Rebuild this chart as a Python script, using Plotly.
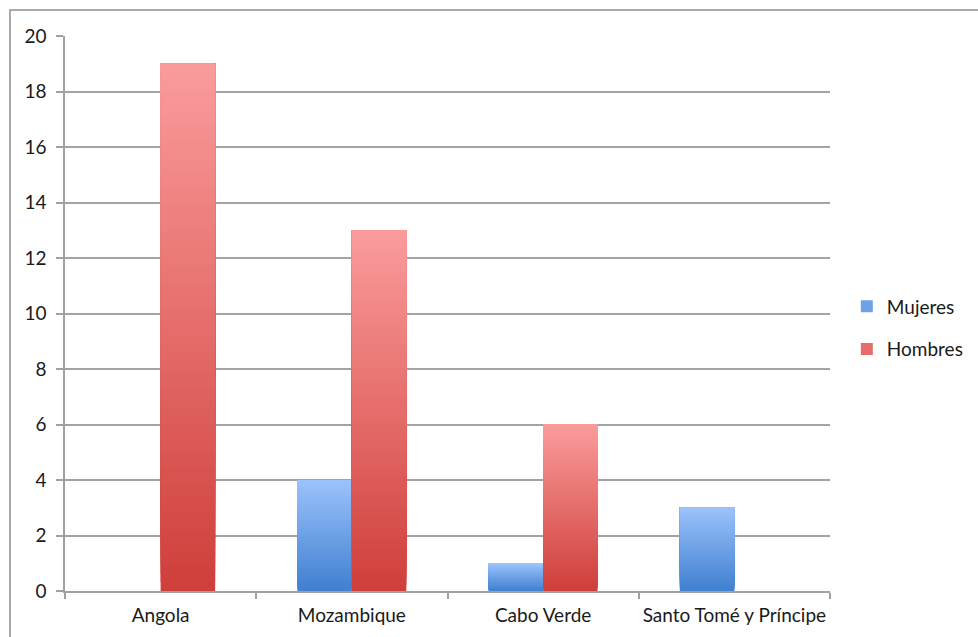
import plotly.graph_objects as go

categories = ["Angola", "Mozambique", "Cabo Verde", "Santo Tomé y Príncipe"]
mujeres = [0, 4, 1, 3]
hombres = [19, 13, 6, 0]
y_ticks = [0, 2, 4, 6, 8, 10, 12, 14, 16, 18, 20]

N_STEPS = 60

def lerp(c1, c2, t):
    return "rgb(%d,%d,%d)" % tuple(round(a + (b - a) * t) for a, b in zip(c1, c2))

series = [
    ("Mujeres", mujeres, (64, 128, 208), (155, 194, 251)),
    ("Hombres", hombres, (207, 63, 59), (250, 155, 155)),
]

fig = go.Figure()
for name, vals, c_bot, c_top in series:
    for k in range(N_STEPS):
        t = k / (N_STEPS - 1)
        # each layer spans from its base up to the full value; later layers cover the upper part
        fig.add_trace(go.Bar(
            x=categories,
            y=[v - v * k / N_STEPS for v in vals],
            base=[v * k / N_STEPS for v in vals],
            offsetgroup=name,
            legendgroup=name,
            name=name,
            showlegend=(k == N_STEPS // 2),
            marker=dict(color=lerp(c_bot, c_top, t), line=dict(width=0)),
            hoverinfo="skip",
        ))

fig.update_layout(
    width=978, height=637,
    margin=dict(l=65, r=148, t=36, b=46, autoexpand=False),
    paper_bgcolor="white", plot_bgcolor="white",
    barmode="group", bargap=0.43, bargroupgap=0,
    font=dict(family="Lato, 'Noto Sans', sans-serif", size=19, color="#1a1a1a"),
    legend=dict(x=1.022, xanchor="left", y=0.474, yanchor="middle",
                font=dict(size=19), tracegroupgap=15, itemwidth=30,
                bgcolor="rgba(0,0,0,0)"),
    showlegend=True,
)
fig.update_xaxes(
    showgrid=False, showline=True, linecolor="#a0a0a0", linewidth=1.5,
    ticks="outside", tickson="boundaries", ticklen=6, tickcolor="#a0a0a0",
    tickwidth=1.5, tickfont=dict(size=19), ticklabelstandoff=6,
    tickangle=0, automargin=False,
)
fig.update_yaxes(
    range=[0, 20], tickvals=y_ticks, showgrid=True, gridcolor="#a3a3a3",
    gridwidth=1.5, showline=True, linecolor="#a0a0a0", linewidth=1.5,
    ticks="outside", ticklen=7, tickcolor="#a0a0a0", tickwidth=1.5,
    tickfont=dict(size=19), zeroline=False, fixedrange=True,
    ticklabelstandoff=6, automargin=False,
)
# chart frame
fig.add_shape(type="rect", xref="paper", yref="paper",
              x0=-0.0719, x1=1.4, y0=-0.2, y1=1.0468,
              line=dict(color="#8f8f8f", width=1.5), layer="below")

fig.write_html("out.html")
